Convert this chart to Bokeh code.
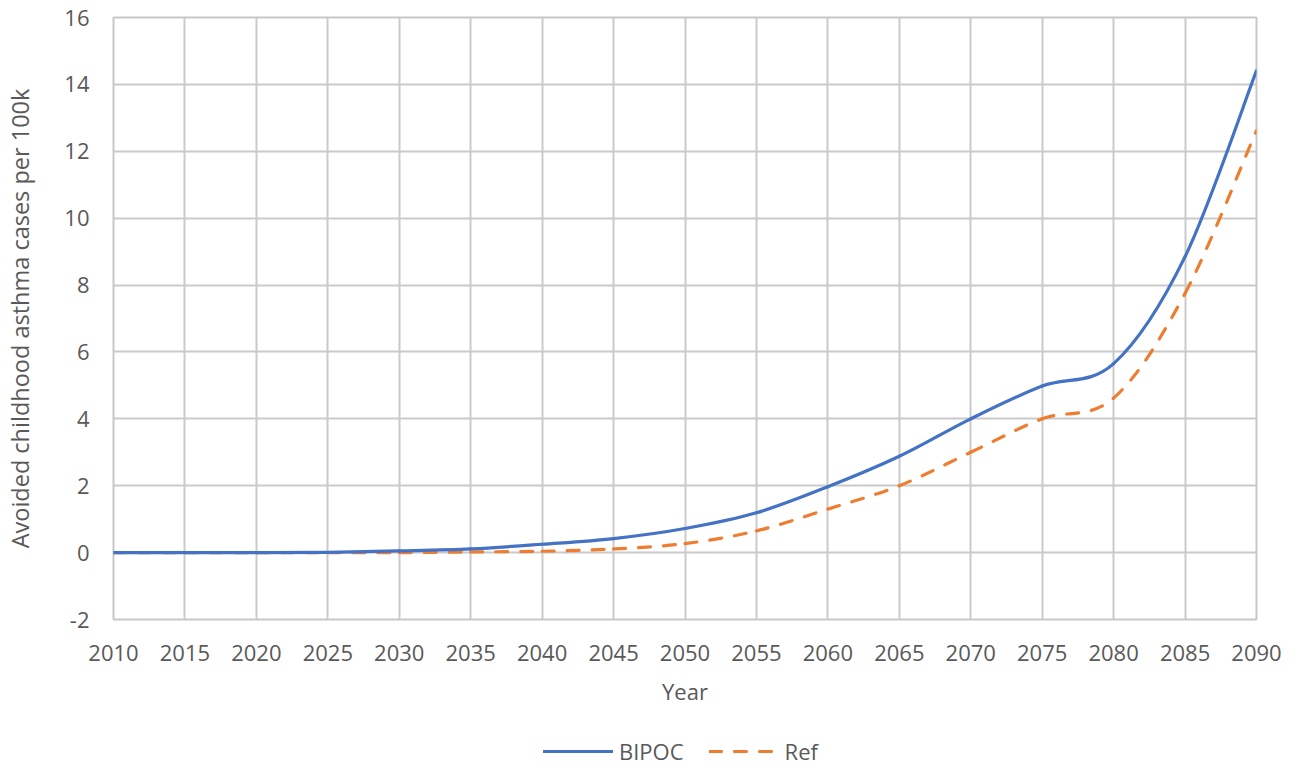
from bokeh.plotting import figure
from bokeh.layouts import column
from bokeh.models import FixedTicker, Legend, LegendItem, ColumnDataSource, Range1d
from bokeh.embed import file_html
from bokeh.resources import INLINE

# ---- data ----
years = [2010, 2015, 2020, 2025, 2030, 2035, 2040, 2045, 2050, 2055, 2060, 2065, 2070, 2075, 2080, 2085, 2090]
bipoc = [0, 0, 0, 0.01, 0.05, 0.11, 0.25, 0.42, 0.72, 1.19, 1.97, 2.88, 4.0, 4.98, 5.65, 8.85, 14.41]
ref = [0, 0, 0, 0, 0, 0.02, 0.04, 0.11, 0.27, 0.65, 1.3, 2.0, 3.0, 4.0, 4.62, 7.75, 12.62]
x_ticks = [2010, 2015, 2020, 2025, 2030, 2035, 2040, 2045, 2050, 2055, 2060, 2065, 2070, 2075, 2080, 2085, 2090]
y_ticks = [-2, 0, 2, 4, 6, 8, 10, 12, 14, 16]
series_names = ["BIPOC", "Ref"]
series_colors = ["#4472C4", "#ED7D31"]

FONT = "Open Sans"
TXT = "#595959"


def smooth_segments(xs, ys):
    """Bezier control points for a smoothed line through the data points (Excel style)."""
    n = len(xs)
    d = dict(x0=[], y0=[], x1=[], y1=[], cx0=[], cy0=[], cx1=[], cy1=[])
    for i in range(n - 1):
        p0 = max(i - 1, 0)
        p3 = min(i + 2, n - 1)
        d["x0"].append(xs[i]); d["y0"].append(ys[i])
        d["x1"].append(xs[i + 1]); d["y1"].append(ys[i + 1])
        d["cx0"].append(xs[i] + (xs[i + 1] - xs[p0]) / 6.0)
        d["cy0"].append(ys[i] + (ys[i + 1] - ys[p0]) / 6.0)
        d["cx1"].append(xs[i + 1] - (xs[p3] - xs[i]) / 6.0)
        d["cy1"].append(ys[i + 1] - (ys[p3] - ys[i]) / 6.0)
    return ColumnDataSource(d)


MAIN_H = 730
p = figure(width=1297, height=MAIN_H, x_range=(2010, 2090), y_range=(-2, 16),
           output_backend="svg", toolbar_location=None,
           min_border_left=113, min_border_right=41, min_border_top=17,
           min_border_bottom=MAIN_H - 619)
p.background_fill_color = "white"
p.border_fill_color = "white"
p.outline_line_color = "#C8C8C8"
p.outline_line_width = 2

for ax in (p.xaxis, p.yaxis):
    ax.axis_line_color = None
    ax.major_tick_line_color = None
    ax.minor_tick_line_color = None
    ax.major_label_text_font = FONT
    ax.major_label_text_font_size = "22px"
    ax.major_label_text_color = TXT
    ax.axis_label_text_font = FONT
    ax.axis_label_text_font_size = "22px"
    ax.axis_label_text_color = TXT
    ax.axis_label_text_font_style = "normal"

p.xaxis.ticker = FixedTicker(ticks=x_ticks)
p.yaxis.ticker = FixedTicker(ticks=y_ticks)
p.yaxis.major_label_overrides = {t: str(t) for t in y_ticks}
p.xaxis.major_label_standoff = 19
p.yaxis.major_label_standoff = 18
p.xaxis.axis_label = "Year"
p.yaxis.axis_label = "Avoided childhood asthma cases per 100k"
p.yaxis.axis_label_text_font_size = "23.5px"
p.xaxis.axis_label_standoff = 12
p.yaxis.axis_label_standoff = 25

p.xgrid.ticker = FixedTicker(ticks=x_ticks)
p.ygrid.ticker = FixedTicker(ticks=y_ticks)
for g in (p.xgrid, p.ygrid):
    g.grid_line_color = "#CACACA"
    g.grid_line_width = 2

line_styles = [dict(line_color=series_colors[0], line_width=3.2, line_cap="round"),
               dict(line_color=series_colors[1], line_width=3.2, line_cap="round", line_dash="12 13")]

bez = dict(x0="x0", y0="y0", x1="x1", y1="y1", cx0="cx0", cy0="cy0", cx1="cx1", cy1="cy1")
p.bezier(source=smooth_segments(years, ref), **bez, **line_styles[1])
p.bezier(source=smooth_segments(years, bipoc), **bez, **line_styles[0])

# ---- legend strip below the chart ----
LEG_H = 768 - MAIN_H
pl = figure(width=1297, height=LEG_H, x_range=Range1d(0, 1), y_range=Range1d(0, 1),
            output_backend="svg", toolbar_location=None,
            min_border_left=0, min_border_right=0, min_border_top=0, min_border_bottom=0)
pl.axis.visible = False
pl.grid.visible = False
pl.outline_line_color = None
pl.background_fill_color = "white"
pl.border_fill_color = "white"
# legend keys: the same series, outside this strip's visible range
k0 = pl.line(x=years, y=bipoc, **line_styles[0])
k1 = pl.line(x=years, y=ref, **line_styles[1])

legend = Legend(items=[LegendItem(label=series_names[0], renderers=[k0]),
                       LegendItem(label=series_names[1], renderers=[k1])],
                location=(430, 2), orientation="horizontal",
                padding=0, margin=0, spacing=25, glyph_width=70, glyph_height=26,
                label_standoff=6, label_text_font=FONT, label_text_font_size="22px",
                label_text_color=TXT, border_line_color=None, background_fill_alpha=0)
pl.add_layout(legend, "center")

layout = column(p, pl, spacing=0)
open("out.html", "w").write(file_html(layout, INLINE))
